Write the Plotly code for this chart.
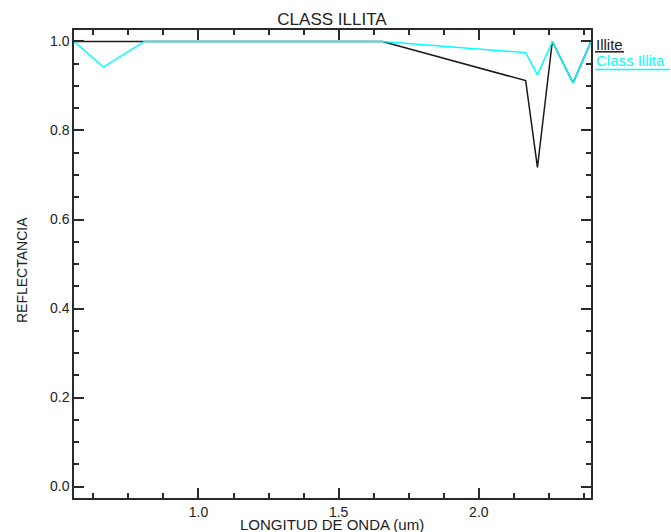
import plotly.graph_objects as go

# Band centres (um) and continuum-removed reflectance for the two spectra
wavelength = [0.556, 0.661, 0.807, 1.656, 2.167, 2.209, 2.262, 2.336, 2.400]
illite = [1.0, 1.0, 1.0, 1.0, 0.912, 0.717, 1.0, 0.907, 1.0]
class_illita = [1.0, 0.9425, 1.0, 1.0, 0.975, 0.925, 1.0, 0.907, 1.0]

series_names = ["Illite", "Class Illita"]
series_colors = ["#1a1a1a", "#00ffff"]

FONT = "Liberation Sans"
AXIS_COLOR = "#2a2a2a"
TEXT_COLOR = "#222222"

fig = go.Figure()
for name, vals, col in zip(series_names, [illite, class_illita], series_colors):
    fig.add_trace(go.Scatter(x=wavelength, y=vals, mode="lines", name=name,
                             line=dict(color=col, width=1.5), showlegend=False))

axis_common = dict(
    showgrid=False, zeroline=False, showline=True, linecolor=AXIS_COLOR, linewidth=1.5,
    mirror="allticks", ticks="inside", ticklen=10, tickwidth=1.5, tickcolor=AXIS_COLOR,
    tickfont=dict(family=FONT, size=14, color=TEXT_COLOR),
)

fig.update_xaxes(range=[0.556, 2.400], tickmode="linear", tick0=0.5, dtick=0.5,
                 tickformat=".1f",
                 minor=dict(ticks="inside", ticklen=5, tickwidth=1.5, tickcolor=AXIS_COLOR,
                            tickmode="linear", tick0=0.5, dtick=0.125),
                 **axis_common)
fig.update_yaxes(range=[-0.0258, 1.0258], tickmode="linear", tick0=0, dtick=0.2,
                 tickformat=".1f",
                 minor=dict(ticks="inside", ticklen=5, tickwidth=1.5, tickcolor=AXIS_COLOR,
                            tickmode="linear", tick0=0, dtick=0.05),
                 **axis_common)

W, H = 671, 532
L, R, T, B = 74, 80, 30, 34
pw, ph = W - L - R, H - T - B


def px_x(px):
    return (px - L) / pw


def px_y(py):
    return (H - B - py) / ph


annotations = [
    dict(text="LONGITUD DE ONDA (um)", x=px_x(332), y=px_y(524.5), xref="paper", yref="paper",
         showarrow=False, xanchor="center", yanchor="middle",
         font=dict(family=FONT, size=15, color=TEXT_COLOR)),
    dict(text="REFLECTANCIA", x=px_x(22), y=px_y(270), xref="paper", yref="paper",
         showarrow=False, xanchor="center", yanchor="middle", textangle=-90,
         font=dict(family=FONT, size=14, color=TEXT_COLOR)),
]

# Legend labels with a sample line underneath each
legend_rows = [(44.5, 51.8, 624), (61.0, 69.5, 670)]
shapes = []
for (ty, ly, lx_end), name, col in zip(legend_rows, series_names, series_colors):
    annotations.append(dict(text=name, x=px_x(594), y=px_y(ty), xref="paper", yref="paper",
                            showarrow=False, xanchor="left", yanchor="middle",
                            font=dict(family=FONT, size=15, color=col)))
    shapes.append(dict(type="line", xref="paper", yref="paper",
                       x0=px_x(595), x1=px_x(lx_end), y0=px_y(ly), y1=px_y(ly),
                       line=dict(color=col, width=1.5)))

fig.update_layout(
    width=W, height=H,
    margin=dict(l=L, r=R, t=T, b=B, pad=0),
    paper_bgcolor="white", plot_bgcolor="white",
    title=dict(text="CLASS ILLITA", x=px_x(332), xref="paper", xanchor="center",
               y=1 - 19 / H, yref="container", yanchor="middle",
               font=dict(family=FONT, size=17, color=TEXT_COLOR)),
    annotations=annotations,
    shapes=shapes,
    showlegend=False,
)

fig.write_html("out.html")
